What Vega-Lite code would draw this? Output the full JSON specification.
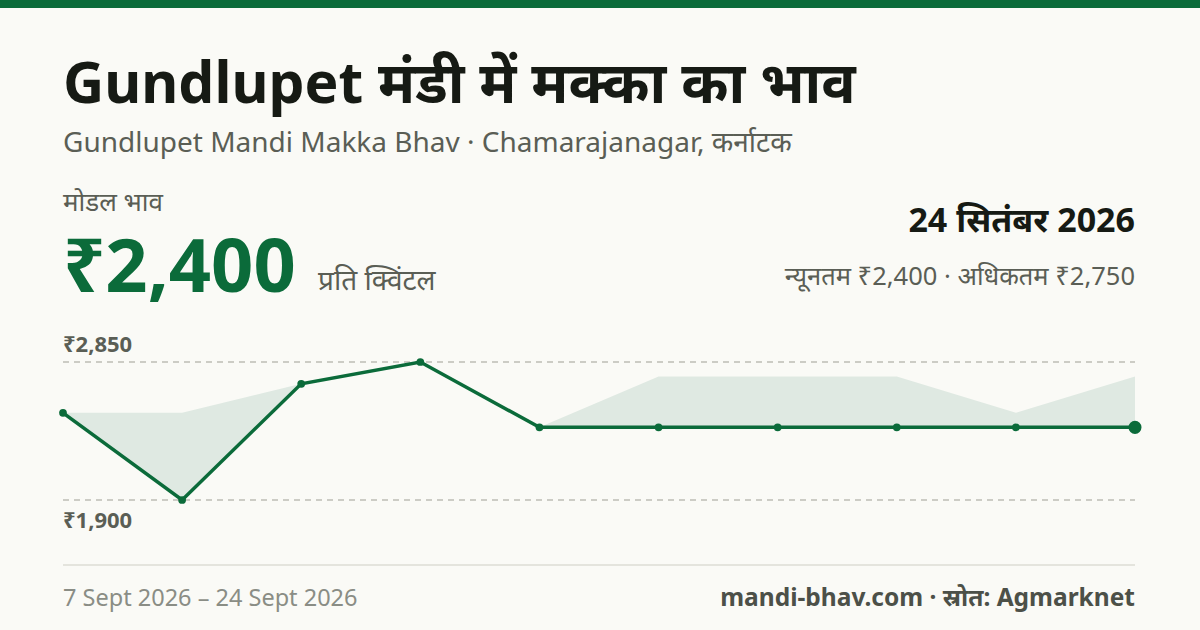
{
  "$schema": "https://vega.github.io/schema/vega-lite/v6.json",
  "width": 1200,
  "height": 630,
  "autosize": {"type": "fit", "contains": "padding"},
  "padding": 0,
  "background": "#fafaf6",
  "config": {"view": {"stroke": null}, "font": "Noto Sans"},
  "datasets": {
    "prices": [
      {"date": "2026-09-07", "min": 2500, "max": 2500, "modal": 2500},
      {"date": "2026-09-09", "min": 1900, "max": 2500, "modal": 1900},
      {"date": "2026-09-11", "min": 2700, "max": 2700, "modal": 2700},
      {"date": "2026-09-12", "min": 2850, "max": 2850, "modal": 2850},
      {"date": "2026-09-14", "min": 2400, "max": 2400, "modal": 2400},
      {"date": "2026-09-16", "min": 2400, "max": 2750, "modal": 2400},
      {"date": "2026-09-18", "min": 2400, "max": 2750, "modal": 2400},
      {"date": "2026-09-20", "min": 2400, "max": 2750, "modal": 2400},
      {"date": "2026-09-22", "min": 2400, "max": 2500, "modal": 2400},
      {"date": "2026-09-24", "min": 2400, "max": 2750, "modal": 2400}
    ],
    "grid": [
      {"v": 2850, "label": "₹2,850"},
      {"v": 1900, "label": "₹1,900"}
    ]
  },
  "layer": [
    {
      "data": {"values": [{}]},
      "mark": {"type": "rect", "color": "#0b6b3a"},
      "encoding": {"x": {"value": 0}, "x2": {"value": 1200}, "y": {"value": 0}, "y2": {"value": 8}}
    },
    {
      "data": {"name": "prices"},
      "mark": {"type": "area", "color": "#dfe9e2", "opacity": 1},
      "encoding": {
        "x": {"field": "date", "type": "ordinal", "axis": null, "scale": {"type": "point", "range": [63, 1135], "padding": 0}},
        "y": {"field": "min", "type": "quantitative", "axis": null, "scale": {"domain": [1900, 2850], "range": [500, 362], "zero": false, "nice": false}},
        "y2": {"field": "max"}
      }
    },
    {
      "data": {"name": "grid"},
      "mark": {"type": "rule", "color": "#bdbdb5", "strokeWidth": 1.5, "strokeDash": [6, 5]},
      "encoding": {
        "y": {"field": "v", "type": "quantitative", "axis": null},
        "x": {"datum": "2026-09-07", "type": "ordinal", "axis": null},
        "x2": {"datum": "2026-09-24"}
      }
    },
    {
      "data": {"name": "prices"},
      "mark": {"type": "line", "color": "#0b6b3a", "strokeWidth": 3.5},
      "encoding": {
        "x": {"field": "date", "type": "ordinal", "axis": null},
        "y": {"field": "modal", "type": "quantitative", "axis": null}
      }
    },
    {
      "data": {"name": "prices"},
      "mark": {"type": "circle", "color": "#0b6b3a", "opacity": 1, "size": 60},
      "encoding": {
        "x": {"field": "date", "type": "ordinal", "axis": null},
        "y": {"field": "modal", "type": "quantitative", "axis": null}
      }
    },
    {
      "data": {"name": "prices"},
      "transform": [{"filter": "datum.date == '2026-09-24'"}],
      "mark": {"type": "circle", "color": "#0b6b3a", "opacity": 1, "size": 170},
      "encoding": {
        "x": {"field": "date", "type": "ordinal", "axis": null},
        "y": {"field": "modal", "type": "quantitative", "axis": null}
      }
    },
    {
      "data": {"name": "grid"},
      "transform": [{"filter": "datum.v == 2850"}],
      "mark": {"type": "text", "align": "left", "baseline": "alphabetic", "dy": -10, "fontSize": 22, "fontWeight": "bold", "color": "#5a5e55"},
      "encoding": {
        "y": {"field": "v", "type": "quantitative", "axis": null},
        "x": {"datum": "2026-09-07", "type": "ordinal", "axis": null},
        "text": {"field": "label"}
      }
    },
    {
      "data": {"name": "grid"},
      "transform": [{"filter": "datum.v == 1900"}],
      "mark": {"type": "text", "align": "left", "baseline": "alphabetic", "dy": 28, "fontSize": 22, "fontWeight": "bold", "color": "#5a5e55"},
      "encoding": {
        "y": {"field": "v", "type": "quantitative", "axis": null},
        "x": {"datum": "2026-09-07", "type": "ordinal", "axis": null},
        "text": {"field": "label"}
      }
    },
    {
      "data": {"values": [{}]},
      "mark": {"type": "rule", "color": "#e4e4dd", "strokeWidth": 2},
      "encoding": {
        "x": {"datum": "2026-09-07", "type": "ordinal", "axis": null},
        "x2": {"datum": "2026-09-24"},
        "y": {"value": 565}
      }
    },
    {
      "data": {"values": [{"t": "Gundlupet मंडी में मक्का का भाव"}]},
      "mark": {"type": "text", "align": "left", "baseline": "alphabetic", "fontSize": 57, "fontWeight": "bold", "color": "#161a14"},
      "encoding": {"x": {"datum": "2026-09-07", "type": "ordinal", "axis": null}, "y": {"value": 103}, "text": {"field": "t"}}
    },
    {
      "data": {"values": [{"t": "Gundlupet Mandi Makka Bhav · Chamarajanagar, कर्नाटक"}]},
      "mark": {"type": "text", "align": "left", "baseline": "alphabetic", "fontSize": 28, "color": "#5a5e55"},
      "encoding": {"x": {"datum": "2026-09-07", "type": "ordinal", "axis": null}, "y": {"value": 152}, "text": {"field": "t"}}
    },
    {
      "data": {"values": [{"t": "मोडल भाव"}]},
      "mark": {"type": "text", "align": "left", "baseline": "alphabetic", "fontSize": 26, "color": "#5a5e55"},
      "encoding": {"x": {"datum": "2026-09-07", "type": "ordinal", "axis": null}, "y": {"value": 211}, "text": {"field": "t"}}
    },
    {
      "data": {"values": [{"t": "₹2,400"}]},
      "mark": {"type": "text", "align": "left", "baseline": "alphabetic", "fontSize": 74, "fontWeight": "bold", "color": "#0b6b3a"},
      "encoding": {"x": {"datum": "2026-09-07", "type": "ordinal", "axis": null}, "y": {"value": 292}, "text": {"field": "t"}}
    },
    {
      "data": {"values": [{"t": "प्रति क्विंटल"}]},
      "mark": {"type": "text", "align": "left", "baseline": "alphabetic", "dx": 255, "fontSize": 28, "color": "#5a5e55"},
      "encoding": {"x": {"datum": "2026-09-07", "type": "ordinal", "axis": null}, "y": {"value": 290}, "text": {"field": "t"}}
    },
    {
      "data": {"values": [{"t": "24 सितंबर 2026"}]},
      "mark": {"type": "text", "align": "right", "baseline": "alphabetic", "fontSize": 34, "fontWeight": "bold", "color": "#161a14"},
      "encoding": {"x": {"datum": "2026-09-24", "type": "ordinal", "axis": null}, "y": {"value": 232}, "text": {"field": "t"}}
    },
    {
      "data": {"values": [{"t": "न्यूनतम ₹2,400 · अधिकतम ₹2,750"}]},
      "mark": {"type": "text", "align": "right", "baseline": "alphabetic", "fontSize": 25.5, "color": "#5a5e55"},
      "encoding": {"x": {"datum": "2026-09-24", "type": "ordinal", "axis": null}, "y": {"value": 285}, "text": {"field": "t"}}
    },
    {
      "data": {"values": [{"t": "7 Sept 2026 – 24 Sept 2026"}]},
      "mark": {"type": "text", "align": "left", "baseline": "alphabetic", "fontSize": 23.5, "color": "#8a8d85"},
      "encoding": {"x": {"datum": "2026-09-07", "type": "ordinal", "axis": null}, "y": {"value": 606}, "text": {"field": "t"}}
    },
    {
      "data": {"values": [{"t": "mandi-bhav.com · स्रोत: Agmarknet"}]},
      "mark": {"type": "text", "align": "right", "baseline": "alphabetic", "fontSize": 24.5, "fontWeight": "bold", "color": "#4c5048"},
      "encoding": {"x": {"datum": "2026-09-24", "type": "ordinal", "axis": null}, "y": {"value": 606}, "text": {"field": "t"}}
    }
  ]
}
